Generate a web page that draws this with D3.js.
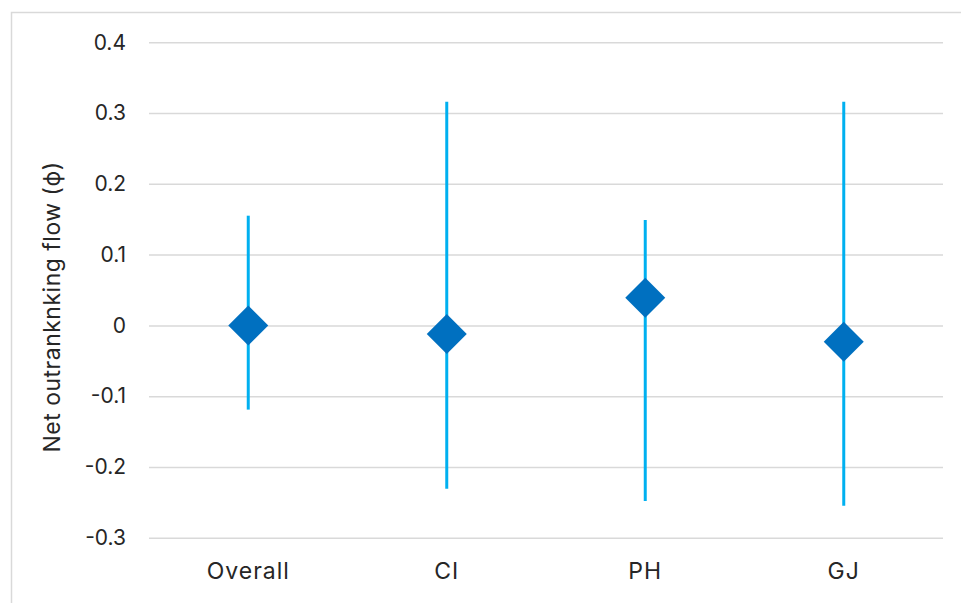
<!DOCTYPE html>
<html>
<head>
<meta charset="utf-8">
<script src="https://cdn.jsdelivr.net/npm/d3@7"></script>
<style>
  body { margin: 0; background: #fff; }
  text { font-family: Inter, "Open Sans", sans-serif; fill: #262626; }
</style>
</head>
<body>
<div id="chart"></div>
<script>
// values
const categories = ["Overall", "CI", "PH", "GJ"];
const means = [0.0, -0.012, 0.039, -0.023];
const highs = [0.155, 0.316, 0.149, 0.316];
const lows = [-0.119, -0.231, -0.248, -0.255];
const yTicks = [0.4, 0.3, 0.2, 0.1, 0, -0.1, -0.2, -0.3];

const width = 961, height = 603;
const margin = { top: 42.3, right: 18, bottom: 65.3, left: 149 };

const svg = d3.select("#chart")
  .append("svg")
  .attr("width", width)
  .attr("height", height);

// chart frame
svg.append("rect")
  .attr("x", 11.5)
  .attr("y", 12.5)
  .attr("width", width + 20)
  .attr("height", height + 20)
  .attr("fill", "none")
  .attr("stroke", "#d9d9d9")
  .attr("stroke-width", 1.5);

const xscale = d3.scaleBand()
  .domain(categories)
  .range([margin.left, width - margin.right])
  .padding(0);

const yscale = d3.scaleLinear()
  .domain([-0.3, 0.4])
  .range([height - margin.bottom, margin.top]);

// gridlines + tick labels (hyphen minus like the original)
const yAxis = d3.axisLeft(yscale)
  .tickValues(yTicks)
  .tickSize(-(width - margin.right - margin.left))
  .tickPadding(23)
  .tickFormat(d => d === 0 ? "0" : d3.format(".1f")(d).replace("\u2212", "-"));

const gy = svg.append("g")
  .attr("class", "y axis")
  .attr("transform", "translate(" + margin.left + ",0)")
  .call(yAxis);
gy.select(".domain").remove();
gy.selectAll(".tick line").attr("stroke", "#d9d9d9").attr("stroke-width", 1.5);
gy.selectAll(".tick text").style("font-size", "21px").attr("fill", "#262626");

const xAxis = d3.axisBottom(xscale).tickSize(0).tickPadding(25);
const gx = svg.append("g")
  .attr("class", "x axis")
  .attr("transform", "translate(0," + (height - margin.bottom) + ")")
  .call(xAxis);
gx.select(".domain").remove();
gx.selectAll(".tick text")
  .style("font-size", "23px")
  .style("letter-spacing", "1px")
  .attr("fill", "#262626");

const rows = categories.map((c, i) => ({ cat: c, mean: means[i], hi: highs[i], lo: lows[i] }));

// range bars
svg.selectAll("line.range")
  .data(rows)
  .enter().append("line")
  .attr("class", "range")
  .attr("x1", d => xscale(d.cat) + xscale.bandwidth() / 2)
  .attr("x2", d => xscale(d.cat) + xscale.bandwidth() / 2)
  .attr("y1", d => yscale(d.hi))
  .attr("y2", d => yscale(d.lo))
  .attr("stroke", "#00b0f0")
  .attr("stroke-width", 3);

// mean diamonds
const diamond = d3.symbol().type(d3.symbolSquare).size(800);
svg.selectAll("path.mean")
  .data(rows)
  .enter().append("path")
  .attr("class", "mean")
  .attr("d", diamond)
  .attr("transform", d => "translate(" + (xscale(d.cat) + xscale.bandwidth() / 2) + "," + yscale(d.mean) + ") rotate(45)")
  .attr("fill", "#0070c0");

// axis title
svg.append("text")
  .attr("transform", "translate(60,307) rotate(-90)")
  .attr("text-anchor", "middle")
  .style("font-size", "23px")
  .style("letter-spacing", "0.5px")
  .text("Net outranknking flow (ϕ)");
</script>
</body>
</html>
